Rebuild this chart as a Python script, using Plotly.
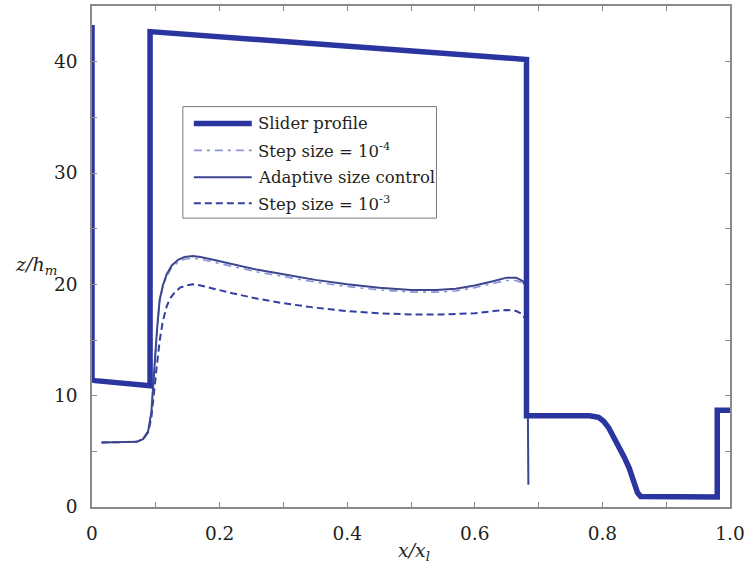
import plotly.graph_objects as go

# ---------------- data ----------------
slider_x = [0, 0, 0.005, 0.03, 0.06, 0.091, 0.091, 0.15, 0.3, 0.45, 0.6, 0.681, 0.681,
            0.72, 0.78, 0.794, 0.802, 0.81, 0.818, 0.826, 0.834, 0.842, 0.849, 0.855, 0.86,
            0.9, 0.95, 0.98, 0.98, 1.0]
slider_y = [43.3, 11.4, 11.35, 11.25, 11.05, 10.9, 42.7, 42.45, 41.8, 41.15, 40.55, 40.2, 8.2,
            8.2, 8.2, 8.05, 7.7, 7.1, 6.3, 5.4, 4.5, 3.5, 2.4, 1.3, 0.95,
            0.92, 0.9, 0.9, 8.7, 8.7]

adapt_x = [0.015, 0.04, 0.07, 0.08, 0.088, 0.093, 0.096, 0.099, 0.102, 0.106, 0.111, 0.117,
           0.125, 0.135, 0.145, 0.158, 0.17, 0.19, 0.22, 0.26, 0.3, 0.35, 0.4, 0.45, 0.5,
           0.54, 0.57, 0.6, 0.63, 0.65, 0.665, 0.675, 0.68, 0.683, 0.684]
adapt_y = [5.8, 5.8, 5.85, 6.1, 6.8, 8.5, 11.0, 13.8, 16.0, 18.6, 19.9, 20.9,
           21.7, 22.2, 22.45, 22.55, 22.45, 22.2, 21.8, 21.3, 20.9, 20.4, 20.0, 19.7, 19.5,
           19.5, 19.6, 19.9, 20.3, 20.6, 20.6, 20.3, 19.8, 10.0, 2.0]

step4_x = [0.015, 0.04, 0.07, 0.08, 0.088, 0.093, 0.096, 0.099, 0.102, 0.106, 0.111, 0.117,
           0.125, 0.135, 0.145, 0.158, 0.17, 0.19, 0.22, 0.26, 0.3, 0.35, 0.4, 0.45, 0.5,
           0.54, 0.57, 0.6, 0.63, 0.65, 0.665, 0.675, 0.68, 0.683]
step4_y = [5.8, 5.8, 5.85, 6.1, 6.8, 8.5, 11.0, 13.7, 15.9, 18.4, 19.7, 20.7,
           21.5, 22.0, 22.25, 22.35, 22.25, 22.0, 21.6, 21.1, 20.7, 20.2, 19.8, 19.5, 19.3,
           19.3, 19.4, 19.7, 20.1, 20.35, 20.35, 20.1, 19.6, 17.0]

step3_x = [0.015, 0.04, 0.07, 0.08, 0.088, 0.093, 0.097, 0.102, 0.106, 0.111, 0.117, 0.122,
           0.13, 0.138, 0.148, 0.158, 0.17, 0.19, 0.22, 0.26, 0.3, 0.35, 0.4, 0.45, 0.5,
           0.55, 0.6, 0.63, 0.65, 0.665, 0.675, 0.68, 0.683]
step3_y = [5.8, 5.8, 5.85, 6.1, 6.7, 8.0, 10.5, 12.9, 14.9, 16.7, 18.0, 18.7,
           19.3, 19.7, 19.9, 20.0, 19.9, 19.6, 19.2, 18.7, 18.3, 17.9, 17.6, 17.4, 17.3,
           17.3, 17.4, 17.6, 17.7, 17.6, 17.3, 16.8, 16.3]

x_ticks = [0, 0.1, 0.2, 0.3, 0.4, 0.5, 0.6, 0.7, 0.8, 0.9, 1.0]
x_labels = ["0", "", "0.2", "", "0.4", "", "0.6", "", "0.8", "", "1.0"]
y_ticks = [0, 5, 10, 15, 20, 25, 30, 35, 40]
y_labels = ["0", "", "10", "", "20", "", "30", "", "40"]

names = ["Slider profile", "Step size = 10<sup>-4</sup>", "Adaptive size control",
         "Step size = 10<sup>-3</sup>"]

# ---------------- styles ----------------
C_SLIDER = "#2b359f"
C_STEP4 = "#8d94d6"
C_ADAPT = "#3b468f"
C_STEP3 = "#3240a0"
FONT = "DejaVu Serif"
TXT = "#231f20"
AX = "#8a8a8a"

W, H = 749, 568
L, R, T, B = 92, 731, 4, 507


def px(xp):
    return (xp - L) / (R - L)


def py(yp):
    return (B - yp) / (B - T)


styles = [
    dict(color=C_SLIDER, width=5.5, dash="solid"),
    dict(color=C_STEP4, width=1.6, dash="8px,5px,3px,5px"),
    dict(color=C_ADAPT, width=2.0, dash="solid"),
    dict(color=C_STEP3, width=2.0, dash="7px,4px"),
]

fig = go.Figure()
fig.add_trace(go.Scatter(x=step3_x, y=step3_y, mode="lines", line=styles[3], name=names[3]))
fig.add_trace(go.Scatter(x=step4_x, y=step4_y, mode="lines", line=styles[1], name=names[1]))
fig.add_trace(go.Scatter(x=adapt_x, y=adapt_y, mode="lines", line=styles[2], name=names[2]))
fig.add_trace(go.Scatter(x=slider_x, y=slider_y, mode="lines", line=styles[0], name=names[0]))

# custom legend (box, line samples, labels)
shapes = [dict(type="rect", xref="paper", yref="paper",
               x0=px(183), x1=px(437), y0=py(217), y1=py(105),
               line=dict(color="#7a7a7a", width=1), fillcolor="white", layer="above")]
annotations = []
rows = [122, 149, 176, 202]
for i, yy in enumerate(rows):
    st = styles[i]
    shapes.append(dict(type="line", xref="paper", yref="paper",
                       x0=px(194), x1=px(252), y0=py(yy), y1=py(yy), layer="above",
                       line=dict(color=st["color"], width=st["width"], dash=st["dash"])))
    annotations.append(dict(xref="paper", yref="paper", x=px(256), y=py(yy),
                            xanchor="left", yanchor="middle", showarrow=False,
                            text=names[i], font=dict(family=FONT, size=16.5, color=TXT)))

annotations.append(dict(xref="paper", yref="paper", x=px(36), y=py(265),
                        xanchor="center", yanchor="middle", showarrow=False,
                        text="<i>z/h<sub>m</sub></i>", font=dict(family=FONT, size=19, color=TXT)))
annotations.append(dict(xref="paper", yref="paper", x=px(415), y=py(552),
                        xanchor="center", yanchor="middle", showarrow=False,
                        text="<i>x/x<sub>l</sub></i>", font=dict(family=FONT, size=19, color=TXT)))

axis_common = dict(showgrid=False, zeroline=False, showline=True, mirror="ticks",
                   linecolor=AX, linewidth=1.5, ticks="inside", ticklen=5, tickwidth=1.2,
                   tickcolor=AX, tickfont=dict(family=FONT, size=18.5, color=TXT))

fig.update_layout(
    width=W, height=H,
    margin=dict(l=L, r=W - R, t=T, b=H - B),
    plot_bgcolor="white", paper_bgcolor="white",
    showlegend=False,
    font=dict(family=FONT),
    xaxis=dict(range=[0, 1.0], tickmode="array", tickvals=x_ticks, ticktext=x_labels,
               ticklabelstandoff=9, **axis_common),
    yaxis=dict(range=[0, 45], tickmode="array", tickvals=y_ticks, ticktext=y_labels,
               ticklabelstandoff=9, **axis_common),
    shapes=shapes,
    annotations=annotations,
)

fig.write_html("out.html")
